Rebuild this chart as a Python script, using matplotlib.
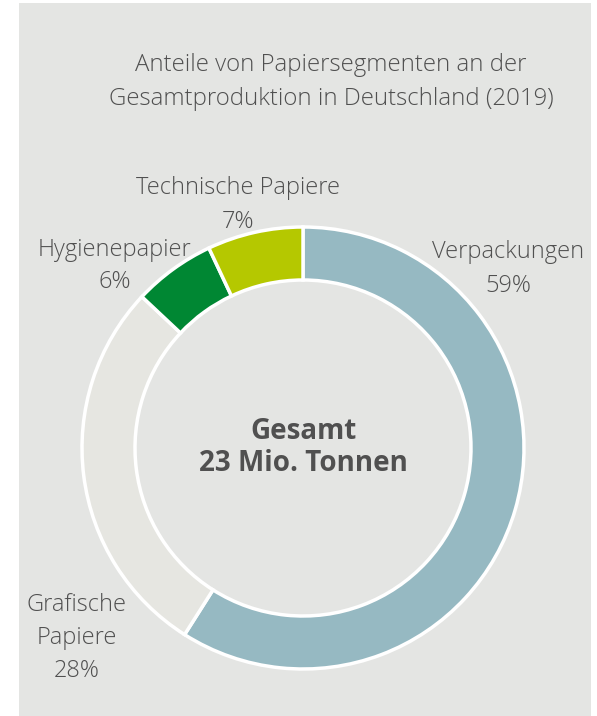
import matplotlib
matplotlib.use("Agg")
import matplotlib.pyplot as plt
from matplotlib.patches import Rectangle

plt.rcParams['font.family'] = ['Open Sans', 'DejaVu Sans']

segments = ["Verpackungen", "Grafische\nPapiere", "Hygienepapier", "Technische Papiere"]
shares = [59, 28, 6, 7]
colors = ["#96b9c2", "#e6e6e1", "#008733", "#b5c800"]
title = "Anteile von Papiersegmenten an der\nGesamtproduktion in Deutschland (2019)"
center_text = "Gesamt\n23 Mio. Tonnen"

W, H = 597, 716
fig = plt.figure(figsize=(W / 100, H / 100), dpi=100)
fig.patch.set_facecolor("white")
ax = fig.add_axes([0, 0, 1, 1])

# grey panel
ax.add_patch(Rectangle((19, 0), 572, H - 3, facecolor="#e4e5e3", edgecolor="none", zorder=0))

cx, cy = 303, H - 448
r_out, r_in = 221, 168
ax.pie(shares, colors=colors, startangle=90, counterclock=False,
       center=(cx, cy), radius=r_out, frame=True,
       wedgeprops=dict(width=r_out - r_in, edgecolor="white", linewidth=2.5))
ax.set_xlim(0, W)
ax.set_ylim(0, H)
ax.set_aspect("auto")
ax.axis("off")

txt = "#505050"
ax.text(331, H - 82, title, ha="center", va="center", fontsize=17.3,
        color=txt, linespacing=1.57, fontweight="light")
ax.text(cx, H - 447.5, center_text, ha="center", va="center", fontsize=20,
        color=txt, fontweight="bold", linespacing=1.15)

label_pos = [(508, 269), (77, 638), (115, 266), (238, 205)]
for name, val, (x, y) in zip(segments, shares, label_pos):
    ax.text(x, H - y, f"{name}\n{val}%", ha="center", va="center", fontsize=17,
            color=txt, linespacing=1.5, fontweight="light")

fig.savefig("out.png", dpi=100)
